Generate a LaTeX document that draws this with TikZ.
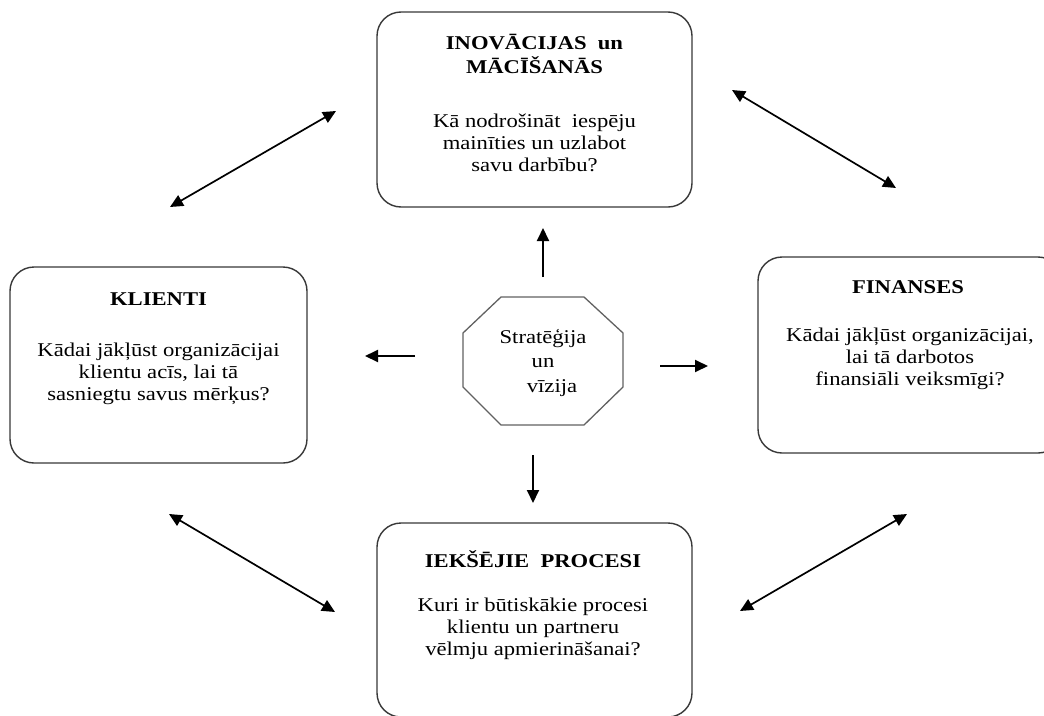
\documentclass[tikz,border=0pt]{standalone}
\usepackage{fontspec}
\setmainfont[FakeStretch=1.16]{Liberation Serif}
\usetikzlibrary{arrows.meta}

\tikzset{
  pole/.style={draw=black!78, line width=1.4pt, rounded corners=24pt, inner sep=0pt},
  ttl/.style={font=\fontsize{19.5}{24}\selectfont\bfseries, align=center, anchor=base, inner sep=0pt},
  txt/.style={font=\fontsize{19.5}{21.6}\selectfont, align=center, anchor=base, inner sep=0pt},
  bult/.style={line width=1.9pt, -{Triangle[length=13pt,width=12pt]}},
  dbult/.style={line width=1.7pt, {Triangle[length=13pt,width=12pt]}-{Triangle[length=13pt,width=12pt]}},
}

\begin{document}
\begin{tikzpicture}[x=1pt, y=-1pt]
  \useasboundingbox (0,0) rectangle (1044,715);

  % Inovācijas un mācīšanās (augšā)
  \node[pole, minimum width=315pt, minimum height=195pt] (inov) at (534.5,109.5) {};
  \node[ttl] (inovT) at (534.5,73) {INOVĀCIJAS\ \ un\\MĀCĪŠANĀS};
  \node[txt] (inovQ) at (534.5,171) {Kā nodrošināt\ \ iespēju\\mainīties un uzlabot\\savu darbību?};

  % Klienti (pa kreisi)
  \node[pole, minimum width=297pt, minimum height=196pt] (klien) at (158.5,365) {};
  \node[ttl] (klienT) at (158.5,305) {KLIENTI};
  \node[txt] (klienQ) at (158.5,400) {Kādai jākļūst organizācijai\\klientu acīs, lai tā\\sasniegtu savus mērķus?};

  % Finanses (pa labi)
  \node[pole, minimum width=304pt, minimum height=196pt] (finan) at (910,355) {};
  \node[ttl] (finanT) at (908,293) {FINANSES};
  \node[txt] (finanQ) at (910,385) {Kādai jākļūst organizācijai,\\lai tā darbotos\\finansiāli veiksmīgi?};

  % Iekšējie procesi (apakšā)
  \node[pole, minimum width=315pt, minimum height=194pt] (proc) at (534.5,620) {};
  \node[ttl] (procT) at (533,567) {IEKŠĒJIE\ \ PROCESI};
  \node[txt] (procQ) at (533,655) {Kuri ir būtiskākie procesi\\klientu un partneru\\vēlmju apmierināšanai?};

  % Centrs: stratēģija un vīzija
  \draw[draw=black!62, line width=1.3pt] (501,297) -- (584,297) -- (623,333) -- (623,387)
    -- (584,425) -- (501,425) -- (463,387) -- (463,333) -- cycle;
  \node[txt, font=\fontsize{19.5}{24.5}\selectfont] (strat) at (543,392) {Stratēģija\\un\\\hspace*{18pt}vīzija};

  % bultu galapunkti
  \coordinate (uA) at (543,277);  \coordinate (uB) at (543,228);
  \coordinate (dA) at (533,455);  \coordinate (dB) at (533,503);
  \coordinate (rA) at (660,366);  \coordinate (rB) at (708,366);
  \coordinate (lA) at (415,356);  \coordinate (lB) at (365,356);
  \coordinate (kaA) at (170,207); \coordinate (kaB) at (336,111);
  \coordinate (laA) at (732,90);  \coordinate (laB) at (896,188);
  \coordinate (kpA) at (169,514); \coordinate (kpB) at (335,612);
  \coordinate (lpA) at (740,611); \coordinate (lpB) at (907,514);

  % bultas no centra
  \draw[bult] (uA) -- (uB);
  \draw[bult] (dA) -- (dB);
  \draw[bult] (rA) -- (rB);
  \draw[bult] (lA) -- (lB);

  % abpusējās bultas
  \draw[dbult] (kaA) -- (kaB);
  \draw[dbult] (laA) -- (laB);
  \draw[dbult] (kpA) -- (kpB);
  \draw[dbult] (lpA) -- (lpB);
\end{tikzpicture}
\end{document}
